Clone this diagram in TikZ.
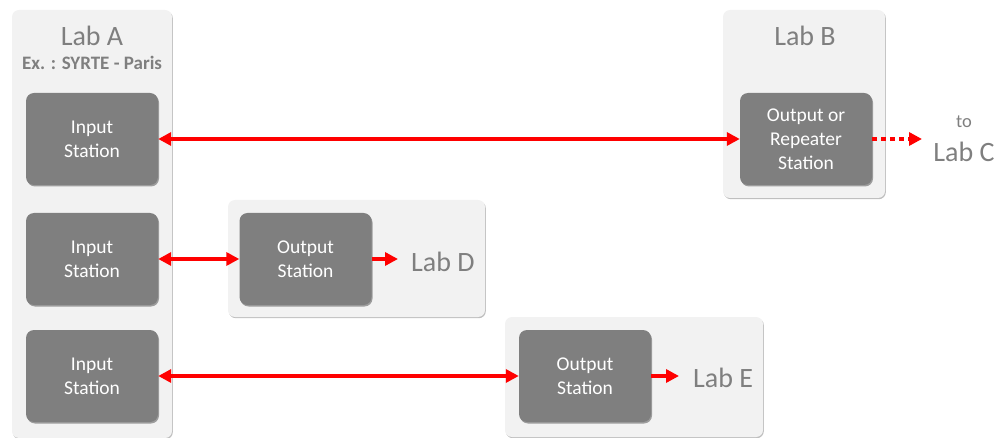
\documentclass[tikz,border=0pt]{standalone}
\usepackage{fontspec}
\setmainfont{Carlito}
\usetikzlibrary{arrows.meta,shadows}
\definecolor{labfill}{HTML}{F2F2F2}
\definecolor{stfill}{HTML}{7F7F7F}
\definecolor{txtgray}{HTML}{7F7F7F}
\definecolor{arrred}{HTML}{FF0000}
\tikzset{
  labbox/.style={rectangle, rounded corners=7pt, fill=labfill, draw=none,
    drop shadow={shadow xshift=0.8pt, shadow yshift=-1.2pt, opacity=0.25, fill=black}},
  stbox/.style={rectangle, rounded corners=8pt, fill=stfill, draw=none, text=white,
    minimum width=132pt, minimum height=92pt, align=center, inner sep=0pt,
    font=\fontsize{19.5}{24}\selectfont,
    drop shadow={shadow xshift=1pt, shadow yshift=-1.5pt, opacity=0.35, fill=black}},
  labtitle/.style={text=txtgray, font=\fontsize{28}{30}\selectfont, inner sep=0pt},
  subtitle/.style={text=txtgray, font=\fontsize{19}{22}\bfseries\selectfont, inner sep=0pt},
  tip/.style={Triangle[length=13pt,width=13pt]},
  link/.style={draw=arrred, line width=3.5pt, {Triangle[length=13pt,width=13pt]}-{Triangle[length=13pt,width=13pt]}},
  onelink/.style={draw=arrred, line width=3.5pt, -{Triangle[length=13pt,width=13pt]}},
  dotlink/.style={draw=arrred, line width=3.5pt, dash pattern=on 5pt off 4pt, -{Triangle[length=13pt,width=13pt]}}
}
\begin{document}
\begin{tikzpicture}[x=1pt,y=-1pt]
\useasboundingbox (0,0) rectangle (998,438);
% lab boxes
\node[labbox, minimum width=160pt, minimum height=428pt] (labA) at (92,224) {};
\node[labbox, minimum width=162pt, minimum height=188pt] (labB) at (804,104) {};
\node[labbox, minimum width=257pt, minimum height=117pt] (labD) at (356.5,258.5) {};
\node[labbox, minimum width=258pt, minimum height=120pt] (labE) at (634,377) {};
% titles
\node[labtitle] (tA) at (92,36) {Lab A};
\node[subtitle] (sA) at (92,63) {Ex. : SYRTE - Paris};
\node[labtitle] (tB) at (805,36) {Lab B};
\node[text=txtgray, font=\fontsize{18.5}{20}\selectfont, inner sep=0pt] (to) at (964,122) {to};
\node[labtitle] (tC) at (964,152) {Lab C};
\node[labtitle, anchor=west] (tD) at (411,262) {Lab D};
\node[labtitle, anchor=west] (tE) at (693,378) {Lab E};
% stations
\node[stbox] (in1) at (92,139) {Input\\Station};
\node[stbox] (in2) at (92,259) {Input\\Station};
\node[stbox] (in3) at (92,376) {Input\\Station};
\node[stbox] (rep) at (806,139) {Output or\\Repeater\\Station};
\node[stbox] (outD) at (305.5,259) {Output\\Station};
\node[stbox] (outE) at (585,376) {Output\\Station};
% connector ends
\coordinate (cEnd) at (922,139);
\coordinate (dEnd) at (398,259);
\coordinate (eEnd) at (679,376);
% connectors
\draw[link] (in1.east) -- (rep.west);
\draw[link] (in2.east) -- (outD.west);
\draw[link] (in3.east) -- (outE.west);
\draw[dotlink] (rep.east) -- (cEnd);
\draw[onelink] (outD.east) -- (dEnd);
\draw[onelink] (outE.east) -- (eEnd);
\end{tikzpicture}
\end{document}
